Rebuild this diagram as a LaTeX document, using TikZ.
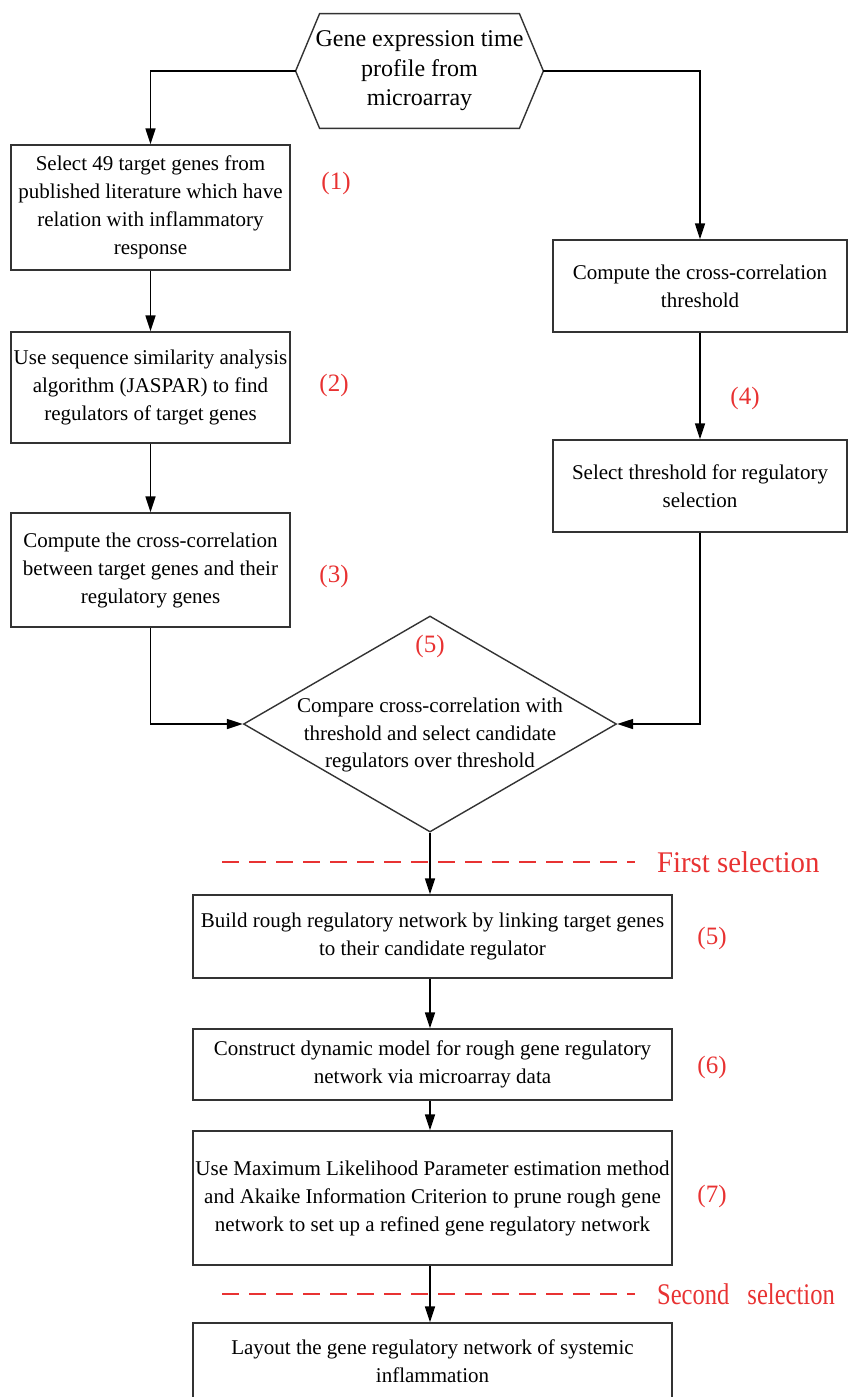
\documentclass[tikz,border=0pt]{standalone}
\usepackage{fontspec}
\setmainfont{Liberation Serif}
\newfontfamily\narrowserif[FakeStretch=0.96]{Liberation Serif}
\newfontfamily\narrowerserif[FakeStretch=0.82]{Liberation Serif}
\usetikzlibrary{positioning,arrows.meta,shapes.geometric}

\definecolor{labred}{RGB}{232,50,50}

\tikzset{
  stepbox/.style={draw=black!80,line width=0.7pt,align=center,inner sep=1pt,
    font=\fontsize{10.5}{14}\selectfont},
  flow/.style={-{Triangle[length=8pt,width=5pt]},line width=0.8pt},
  num/.style={text=labred,font=\fontsize{12.5}{14}\selectfont},
  cut/.style={draw=labred,dash pattern=on 8.5pt off 5pt,line width=1.4pt},
  cuttext/.style={text=labred,anchor=west,font=\narrowserif\fontsize{15}{16}\selectfont},
}

\begin{document}
\begin{tikzpicture}[x=0.5pt,y=-0.5pt]
  \useasboundingbox (0,0) rectangle (849,1397);

  % source hexagon
  \node[minimum width=123.5pt,minimum height=57pt,inner sep=0pt,align=center,
    font=\fontsize{12}{14.75}\selectfont] (src) at (419.5,71)
    {Gene expression time\\profile from\\microarray};
  \draw[line width=0.7pt,draw=black!80] (src.west) -- ([xshift=12pt]src.north west)
    -- ([xshift=-12pt]src.north east) -- (src.east)
    -- ([xshift=-12pt]src.south east) -- ([xshift=12pt]src.south west) -- cycle;

  % left column
  \node[stepbox,minimum width=139.5pt,minimum height=62.5pt] (sel) at (150.5,207.5)
    {Select 49 target genes from\\published literature which have\\relation with inflammatory\\response};
  \node[stepbox,minimum width=139.5pt,minimum height=55.5pt] (jas) at (150.5,387.5)
    {Use sequence similarity analysis\\algorithm (JASPAR) to find\\regulators of target genes};
  \node[stepbox,minimum width=139.5pt,minimum height=57pt] (cc) at (150.5,570)
    {Compute the cross-correlation\\between target genes and their\\regulatory genes};

  % right column
  \node[stepbox,minimum width=147pt,minimum height=46pt] (cth) at (700,286)
    {Compute the cross-correlation\\threshold};
  \node[stepbox,minimum width=147pt,minimum height=46pt] (thr) at (700,486)
    {Select threshold for regulatory\\selection};

  % decision
  \node[diamond,draw=black!80,line width=0.7pt,minimum width=186.5pt,
    minimum height=108pt,inner sep=0pt] (cmp) at (430,724) {};
  \node[align=center,font=\fontsize{10.5}{13.75}\selectfont] (cmptext) at (430,735)
    {Compare cross-correlation with\\threshold and select candidate\\regulators over threshold};

  % bottom column
  \node[stepbox,minimum width=239.5pt,minimum height=41.5pt] (rough) at (432.5,936.5)
    {Build rough regulatory network by linking target genes\\to their candidate regulator};
  \node[stepbox,minimum width=239.5pt,minimum height=35.5pt] (dyn) at (432.5,1064.5)
    {Construct dynamic model for rough gene regulatory\\network via microarray data};
  \node[stepbox,minimum width=239.5pt,minimum height=67pt] (prune) at (432.5,1198)
    {Use Maximum Likelihood Parameter estimation method\\and Akaike Information Criterion to prune rough gene\\network to set up a refined gene regulatory network};
  \node[stepbox,minimum width=239.5pt,minimum height=38pt] (lay) at (432.5,1361)
    {Layout the gene regulatory network of systemic\\inflammation};

  % step numbers
  \node[num] (n1) at (336,183) {(1)};
  \node[num] (n2) at (334,385) {(2)};
  \node[num] (n3) at (334,576) {(3)};
  \node[num] (n4) at (745,398) {(4)};
  \node[num] (n5a) at (430,646) {(5)};
  \node[num] (n5b) at (712,938) {(5)};
  \node[num] (n6) at (712,1067) {(6)};
  \node[num] (n7) at (712,1196) {(7)};

  % selections
  \draw[cut] (222,862) -- (635,862);
  \node[cuttext] (first) at (650,862) {First selection};
  \draw[cut] (222,1294) -- (635,1294);
  \node[cuttext,font=\narrowerserif\fontsize{15}{16}\selectfont] (second) at (650,1294)
    {Second\hspace{0.6em}selection};

  % connectors
  \draw[flow] (src.west) -| (sel.north);
  \draw[flow] (src.east) -| (cth.north);
  \draw[flow] (sel) -- (jas);
  \draw[flow] (jas) -- (cc);
  \draw[flow] (cth) -- (thr);
  \draw[flow] (cc.south) |- (cmp.west);
  \draw[flow] (thr.south) |- (cmp.east);
  \draw[flow] (cmp.south) -- (cmp.south |- rough.north);
  \draw[flow] (rough.south -| cmp.south) -- (cmp.south |- dyn.north);
  \draw[flow] (dyn.south -| cmp.south) -- (cmp.south |- prune.north);
  \draw[flow] (prune.south -| cmp.south) -- (cmp.south |- lay.north);
\end{tikzpicture}
\end{document}
